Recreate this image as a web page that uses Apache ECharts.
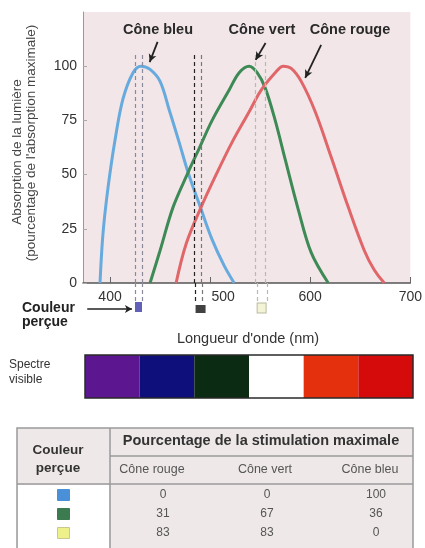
<!DOCTYPE html>
<html>
<head>
<meta charset="utf-8">
<script src="https://cdn.jsdelivr.net/npm/echarts@6/dist/echarts.min.js"></script>
<style>
html,body{margin:0;padding:0;background:#fff;}
#c{width:425px;height:548px;}
</style>
</head>
<body>
<div id="c"></div>
<script>
// ---- data ----
var blueCone = [[390,0],[393,23],[398,44],[405,66],[413,85],[423,97],[431,100],[440,98.5],[450,93],[459,80],[469,65],[478,51],[491,34],[502,20],[514,8],[524,0]];
var greenCone = [[440,0],[450,15],[463,35],[478,51],[489,62],[502,75],[519,89],[529,97],[539,100],[547,97],[555,90],[565,75],[575,57],[588,34],[601,14],[618,0]];
var redCone = [[466,0],[476,18],[491,35],[506,50],[522,65],[539,79],[551,89],[565,97],[573,100],[581,99],[591,93],[605,79],[621,58],[638,35],[654,15],[664,6],[674,0]];
var xTicks = [400, 500, 600, 700];
var yTicks = [0, 25, 50, 75, 100];
var dashPairs = [[424.8, 431.7], [484.2, 491.1], [545.5, 555.4]];
var perceived = [428, 489.5, 550];
var spectrumBands = ['violet','bleu','vert','blanc','orange','rouge'];
var tableHeader = 'Pourcentage de la stimulation maximale';
var tableCols = ['Cône rouge', 'Cône vert', 'Cône bleu'];
var stimRed = [0, 31, 83];
var stimGreen = [0, 67, 83];
var stimBlue = [100, 36, 0];

// ---- styles ----
var FONT = 'Liberation Sans';
var dashColors = [['#8a8a9a','#8a8a9a'],['#222','#777'],['#b8bca8','#b8bca8']];
var markerStyles = [
  {color:'#3a3aa8', size:[7,10], y:24},
  {color:'#111', size:[10,8], y:26},
  {color:'#f0f0cc', size:[9,10], y:25, border:'#a8a890'}
];
var spectrumColors = ['#5c1690','#0f0f7c','#0b2b13','#ffffff','#e5300d','#d50a0b'];
var tableSwatch = ['#4a90d8','#3c7a50','#eef08a'];

var chart = echarts.init(document.getElementById('c'), null, {renderer:'canvas'});

var dashMarkTop = [], dashMarkBottom = [];
dashPairs.forEach(function(p, i){
  p.forEach(function(x, j){
    var ls = {color: dashColors[i][j], type:[4,3], width:1.2};
    dashMarkTop.push([{coord:[x,0], lineStyle:ls},{coord:[x,106]}]);
    dashMarkBottom.push([{coord:[x,0], lineStyle:ls},{coord:[x,19]}]);
  });
});

var markerData = perceived.map(function(x, i){
  var s = markerStyles[i];
  return {value:[x, s.y], symbolSize:s.size, itemStyle:{color:s.color, borderColor:s.border || s.color, borderWidth: s.border ? 1 : 0}};
});

function curve(name, data, color){
  return {type:'line', name:name, data:data, xAxisIndex:0, yAxisIndex:0, smooth:0.35, showSymbol:false, symbol:'none',
    lineStyle:{color:color, width:3}, z:3, silent:true};
}

var arrowLines = [
  [{coord:[447.5,111.2]},{coord:[439.6,101.9]}],
  [{coord:[555.4,110.7]},{coord:[545.5,102.9]}],
  [{coord:[610.9,109.8]},{coord:[595.0,94.6]}]
];

var graphics = [];
function txt(x, y, t, opt){
  opt = opt || {};
  graphics.push({type:'text', x:x, y:y, rotation: opt.rot || 0, z:100, style:{
    text:t, fill: opt.color || '#333', font: (opt.weight||'normal') + ' ' + (opt.size||11) + 'px "' + FONT + '"',
    textAlign: opt.align || 'center', textVerticalAlign:'middle'}});
}
// curve labels
txt(158, 30, 'Cône bleu', {weight:'bold', size:14.5, color:'#2a2a2a'});
txt(262, 30, 'Cône vert', {weight:'bold', size:14.5, color:'#2a2a2a'});
txt(350, 30, 'Cône rouge', {weight:'bold', size:14.5, color:'#2a2a2a'});
// y axis name
txt(17, 152, 'Absorption de la lumière', {rot:Math.PI/2, size:13.5, color:'#444'});
txt(31, 143, "(pourcentage de l'absorption maximale)", {rot:Math.PI/2, size:13.5, color:'#444'});
// couleur perçue
txt(22, 308, 'Couleur', {weight:'bold', size:14, align:'left', color:'#222'});
txt(22, 322, 'perçue', {weight:'bold', size:14, align:'left', color:'#222'});
txt(248, 339, "Longueur d'onde (nm)", {size:14.5, color:'#333'});
txt(9, 365, 'Spectre', {size:12, align:'left', color:'#333'});
txt(9, 380, 'visible', {size:12, align:'left', color:'#333'});

// table
graphics.push({type:'rect', shape:{x:17,y:428,width:396,height:130}, style:{fill:'#efe8e8', stroke:'#9a9a9a', lineWidth:1.5}, z:50});
graphics.push({type:'rect', shape:{x:18,y:485,width:91,height:70}, style:{fill:'#ffffff'}, z:51});
graphics.push({type:'line', shape:{x1:110,y1:428,x2:110,y2:560}, style:{stroke:'#9a9a9a', lineWidth:1.5}, z:52});
graphics.push({type:'line', shape:{x1:110,y1:456,x2:413,y2:456}, style:{stroke:'#9a9a9a', lineWidth:1.5}, z:52});
graphics.push({type:'line', shape:{x1:17,y1:484,x2:413,y2:484}, style:{stroke:'#9a9a9a', lineWidth:1.5}, z:52});
txt(58, 450, 'Couleur', {weight:'bold', size:13.5, color:'#333'});
txt(58, 468, 'perçue', {weight:'bold', size:13.5, color:'#333'});
txt(261, 441, tableHeader, {weight:'bold', size:14.5, color:'#333'});
var colX = [152, 265, 370];
tableCols.forEach(function(c, i){ txt(colX[i], 470, c, {size:12.5, color:'#555'}); });
var rowY = [495, 514, 533];
var numX = [163, 267, 376];
[stimRed, stimGreen, stimBlue].forEach(function(col, ci){
  col.forEach(function(v, ri){ txt(numX[ci], rowY[ri], String(v), {size:12, color:'#555'}); });
});
rowY.forEach(function(y, i){
  graphics.push({type:'rect', shape:{x:57.5,y:y-5.5,width:12,height:11}, style:{fill:tableSwatch[i], stroke: i==2 ? '#c8c890' : tableSwatch[i], lineWidth:1}, z:60});
});

var option = {
  animation:false,
  backgroundColor:'#ffffff',
  grid:[
    {left:83, right:12, top:12, height:271, show:true, backgroundColor:'#f2e6e8', borderWidth:0},
    {left:83, right:12, top:283, height:35},
    {left:85, right:12, top:355, height:43, show:true, borderColor:'#2a2a2a', borderWidth:1.5, backgroundColor:'transparent', z:5}
  ],
  xAxis:[
    {type:'value', gridIndex:0, min:373, max:700,
      axisLine:{show:true, onZero:false, lineStyle:{color:'#555', width:1.5}},
      axisTick:{show:true, inside:true, length:6, customValues:xTicks, lineStyle:{color:'#666'}},
      axisLabel:{show:true, customValues:xTicks, margin:7, color:'#333', fontSize:14, fontFamily:FONT,
        formatter:function(v){ return v === 500 ? '{s|' + v + '}' : String(v); },
        rich:{s:{padding:[0,0,0,26], fontSize:14, fontFamily:FONT, color:'#333'}}},
      splitLine:{show:false}},
    {type:'value', gridIndex:1, min:373, max:700, show:false},
    {type:'category', gridIndex:2, data:spectrumBands, show:false, boundaryGap:true}
  ],
  yAxis:[
    {type:'value', gridIndex:0, min:0, max:125, interval:25,
      axisLine:{show:true, lineStyle:{color:'#999', width:1}},
      axisTick:{show:true, inside:true, length:4, customValues:yTicks, lineStyle:{color:'#aaa'}},
      axisLabel:{show:true, customValues:yTicks, margin:6, color:'#333', fontSize:14, fontFamily:FONT},
      splitLine:{show:false}},
    {type:'value', gridIndex:1, min:0, max:35, inverse:true, show:false},
    {type:'value', gridIndex:2, min:0, max:1, show:false}
  ],
  graphic:graphics,
  series:[
    {type:'line', xAxisIndex:0, yAxisIndex:0, data:[], silent:true,
      markLine:{silent:true, symbol:['none','none'], label:{show:false}, data:dashMarkTop, animation:false}},
    curve('Cône bleu', blueCone, '#66aade'),
    curve('Cône vert', greenCone, '#3e8a56'),
    curve('Cône rouge', redCone, '#e06669'),
    {type:'line', xAxisIndex:0, yAxisIndex:0, data:[], silent:true, z:6,
      markLine:{silent:true, symbol:['none','arrow'], symbolSize:[6,8], label:{show:false},
        lineStyle:{color:'#222', width:1.8, type:'solid'}, data:arrowLines, animation:false}},
    {type:'scatter', xAxisIndex:1, yAxisIndex:1, symbol:'rect', data:markerData, silent:true, z:5,
      markLine:{silent:true, symbol:['none','none'], label:{show:false}, data:dashMarkBottom.concat([
        [{coord:[377.2,26], lineStyle:{color:'#222', width:1.5, type:'solid'}, symbol:'none'},{coord:[421.5,26], symbol:'arrow', symbolSize:[6,7]}]
      ]), animation:false}},
    {type:'bar', xAxisIndex:2, yAxisIndex:2, barWidth:'100%', barCategoryGap:'0%', silent:true,
      data: spectrumColors.map(function(c){ return {value:1, itemStyle:{color:c}}; })}
  ]
};
chart.setOption(option);
</script>
</body>
</html>
